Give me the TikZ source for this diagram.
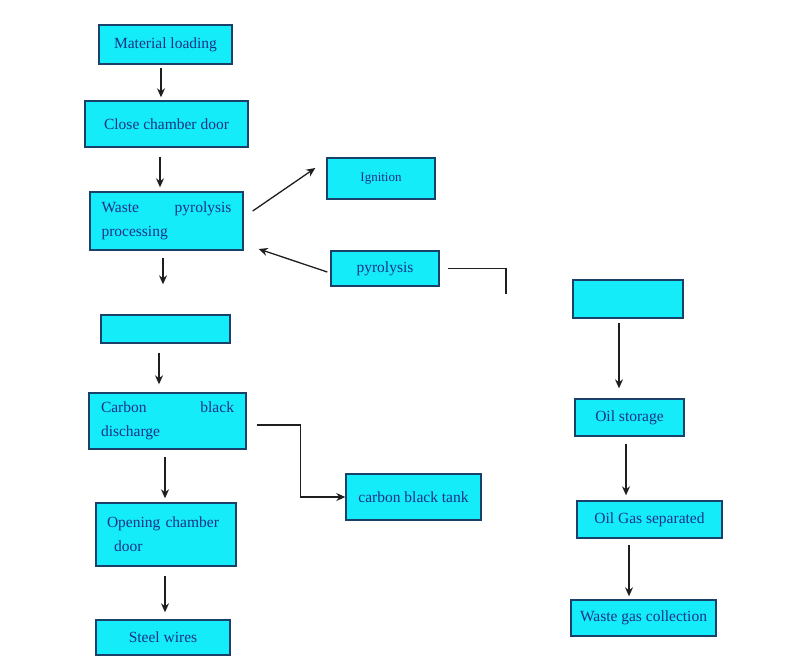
\documentclass[tikz,border=0pt]{standalone}
\usepackage{fontspec}
\setmainfont{Liberation Serif}
\usetikzlibrary{calc,arrows.meta}
\definecolor{boxfill}{RGB}{20,236,250}
\definecolor{boxline}{RGB}{25,65,105}
\definecolor{boxtext}{RGB}{25,50,135}
\definecolor{arrowgray}{RGB}{30,30,30}

\begin{document}
\begin{tikzpicture}[x=1pt,y=-1pt]
    \tikzstyle{every node}=[inner sep=0, font=\fontsize{15.5}{24}\selectfont, text=boxtext]
    \tikzstyle{box}=[draw=boxline, line width=1.4pt, fill=boxfill]
    \tikzstyle{arr}=[draw=arrowgray, line width=1.3pt, -{Stealth[length=9pt,width=8pt]}]
    \useasboundingbox (0,0) rectangle (800,662);
    % left column
    \node[box, minimum width=133, minimum height=39] (LOAD) at (165.5,44.5) {Material loading};
    \node[box, minimum width=163, minimum height=46] (CLOSE) at (166.5,124) {Close chamber door};
    \node[box, minimum width=153, minimum height=58, text width=130, align=left] (WASTE) at (166.5,221) {Waste\hfill pyrolysis\\processing};
    \node[box, minimum width=129, minimum height=28] (BLANKL) at (165.5,329) {};
    \node[box, minimum width=157, minimum height=56, text width=133, align=left] (CARBON) at (167.5,421) {Carbon\hfill black\\discharge};
    \node[box, minimum width=140, minimum height=63, text width=118, align=left] (OPEN) at (166,534.5) {Opening chamber\\\hspace*{7pt}door};
    \node[box, minimum width=134, minimum height=35] (STEEL) at (163,637.5) {Steel wires};
    % middle
    \node[box, minimum width=108, minimum height=41, font=\fontsize{13}{16}\selectfont] (IGN) at (381,178.5) {Ignition};
    \node[box, minimum width=108, minimum height=35] (PYRO) at (385,268.5) {pyrolysis};
    \node[box, minimum width=135, minimum height=46] (TANK) at (413.5,497) {carbon black tank};
    % right column
    \node[box, minimum width=110, minimum height=38] (BLANKR) at (628,299) {};
    \node[box, minimum width=109, minimum height=37] (OIL) at (629.5,417.5) {Oil storage};
    \node[box, minimum width=145, minimum height=37] (SEP) at (649.5,519.5) {Oil Gas separated};
    \node[box, minimum width=145, minimum height=36] (GAS) at (643.5,618) {Waste gas collection};
    \coordinate (PEND) at (506,294);

    % arrows down
    \draw[arr, shorten <=3, shorten >=3] ([xshift=-4.5pt]LOAD.south) -- ([xshift=-4.5pt]LOAD.south |- CLOSE.north);
    \draw[arr, shorten <=9, shorten >=4] ([xshift=-6.5pt]CLOSE.south) -- ([xshift=-6.5pt]CLOSE.south |- WASTE.north);
    \draw[arr, shorten <=7, shorten >=30] ([xshift=-3.5pt]WASTE.south) -- ([xshift=-3.5pt]WASTE.south |- BLANKL.north);
    \draw[arr, shorten <=9, shorten >=8] ([xshift=-6.5pt]BLANKL.south) -- ([xshift=-6.5pt]BLANKL.south |- CARBON.north);
    \draw[arr, shorten <=7, shorten >=4] ([xshift=-2.5pt]CARBON.south) -- ([xshift=-2.5pt]CARBON.south |- OPEN.north);
    \draw[arr, shorten <=9, shorten >=7] ([xshift=-1pt]OPEN.south) -- ([xshift=-1pt]OPEN.south |- STEEL.north);
    \draw[arr, shorten <=4, shorten >=10] ([xshift=-9pt]BLANKR.south) -- ([xshift=-9pt]BLANKR.south |- OIL.north);
    \draw[arr, shorten <=7, shorten >=5] ([xshift=-3.5pt]OIL.south) -- ([xshift=-3.5pt]OIL.south |- SEP.north);
    \draw[arr, shorten <=6, shorten >=3] ([xshift=-20.5pt]SEP.south) -- ([xshift=-20.5pt]SEP.south |- GAS.north);
    % side branches
    \draw[arr] ($(WASTE.east)+(9,-10)$) -- ($(IGN.west)+(-11,-10.5)$);
    \draw[arr] ($(PYRO.west)+(-3,3.5)$) -- ($(WASTE.east)+(15,28)$);
    \draw[draw=arrowgray, line width=1.3pt] ($(PYRO.east)+(8,0)$) -| (PEND);
    \draw[arr] ($(CARBON.east)+(10,4)$) -| ($(TANK.west)+(-45,0)$) -- (TANK.west);
\end{tikzpicture}
\end{document}
